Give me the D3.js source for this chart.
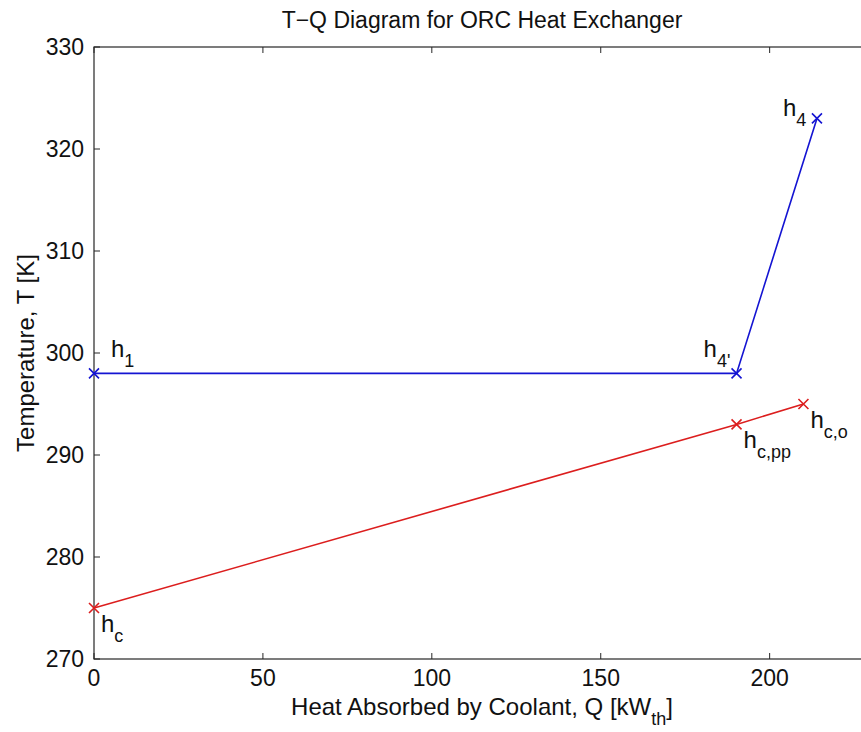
<!DOCTYPE html>
<html><head><meta charset="utf-8">
<script src="https://cdn.jsdelivr.net/npm/d3@7"></script>
<style>body{margin:0;background:#fff}svg{display:block}text{font-family:"Liberation Sans",Arial,sans-serif;fill:#111}</style>
</head><body><svg id="c" width="861" height="732"></svg>
<script>
// Data
const orcQ = [0, 190.2, 214];          // h1, h4', h4
const orcT = [298, 298, 323];
const orcLabels = [["h","1"],["h","4'"],["h","4"]];
const coolQ = [0, 190.2, 210];         // hc, hc,pp, hc,o
const coolT = [275, 293, 295];
const coolLabels = [["h","c"],["h","c,pp"],["h","c,o"]];
const xTicks = [0, 50, 100, 150, 200];
const yTicks = [270, 280, 290, 300, 310, 320, 330];
const titleText = "T\u2212Q Diagram for ORC Heat Exchanger";
const xLabel = ["Heat Absorbed by Coolant, Q [kW", "th", "]"];
const yLabel = "Temperature, T [K]";

const svg = d3.select("#c");
const L = 94, T = 47, B = 659, R = 871;
const x = d3.scaleLinear().domain([0, 230]).range([L, R]);
const y = d3.scaleLinear().domain([270, 330]).range([B, T]);
const fs = 23, lfs = 24, sfs = 18;

const axC = "#262626";
// box
svg.append("rect").attr("x", L).attr("y", T).attr("width", R - L).attr("height", B - T)
  .attr("fill", "none").attr("stroke", axC).attr("stroke-width", 1.2);

// ticks
const tl = 6;
const g = svg.append("g");
xTicks.forEach(v => {
  g.append("line").attr("x1", x(v)).attr("x2", x(v)).attr("y1", B).attr("y2", B - tl).attr("stroke", axC);
  g.append("line").attr("x1", x(v)).attr("x2", x(v)).attr("y1", T).attr("y2", T + tl).attr("stroke", axC);
  g.append("text").attr("x", x(v)).attr("y", 686).attr("text-anchor", "middle").attr("font-size", fs).text(v);
});
yTicks.forEach(v => {
  g.append("line").attr("x1", L).attr("x2", L + tl).attr("y1", y(v)).attr("y2", y(v)).attr("stroke", axC);
  g.append("text").attr("x", 84).attr("y", y(v) + 8).attr("text-anchor", "end").attr("font-size", fs).text(v);
});

// title & labels
svg.append("text").attr("x", 482).attr("y", 28).attr("text-anchor", "middle").attr("font-size", fs).text(titleText);
const xl = svg.append("text").attr("x", 482).attr("y", 715).attr("text-anchor", "middle").attr("font-size", lfs);
xl.append("tspan").text(xLabel[0]);
xl.append("tspan").attr("font-size", sfs).attr("dy", 10).text(xLabel[1]);
xl.append("tspan").attr("dy", -10).text(xLabel[2]);
svg.append("text").attr("transform", `translate(34,${(T + B) / 2}) rotate(-90)`).attr("text-anchor", "middle")
  .attr("font-size", lfs).text(yLabel);

// series
function series(qs, ts, color) {
  const pts = qs.map((q, i) => [q, ts[i]]);
  svg.append("path").datum(pts)
    .attr("d", d3.line().x(d => x(d[0])).y(d => y(d[1])))
    .attr("fill", "none").attr("stroke", color).attr("stroke-width", 1.6);
  const s = 5;
  pts.forEach(d => {
    const cx = x(d[0]), cy = y(d[1]);
    svg.append("path").attr("d", `M${cx - s},${cy - s}L${cx + s},${cy + s}M${cx - s},${cy + s}L${cx + s},${cy - s}`)
      .attr("stroke", color).attr("stroke-width", 1.6).attr("fill", "none");
  });
}
series(orcQ, orcT, "#1414d2");
series(coolQ, coolT, "#dc1e1e");

// point labels (offsets relative to marker)
function label(q, t, lab, dx, dy) {
  const tx = svg.append("text").attr("x", x(q) + dx).attr("y", y(t) + dy).attr("font-size", lfs);
  tx.append("tspan").text(lab[0]);
  tx.append("tspan").attr("font-size", sfs).attr("dy", 10).text(lab[1]);
}
label(orcQ[0], orcT[0], orcLabels[0], 17, -16);
label(orcQ[1], orcT[1], orcLabels[1], -33, -16);
label(orcQ[2], orcT[2], orcLabels[2], -34, -2);
label(coolQ[0], coolT[0], coolLabels[0], 7, 24);
label(coolQ[1], coolT[1], coolLabels[1], 7, 24);
label(coolQ[2], coolT[2], coolLabels[2], 7, 24);
</script></body></html>
